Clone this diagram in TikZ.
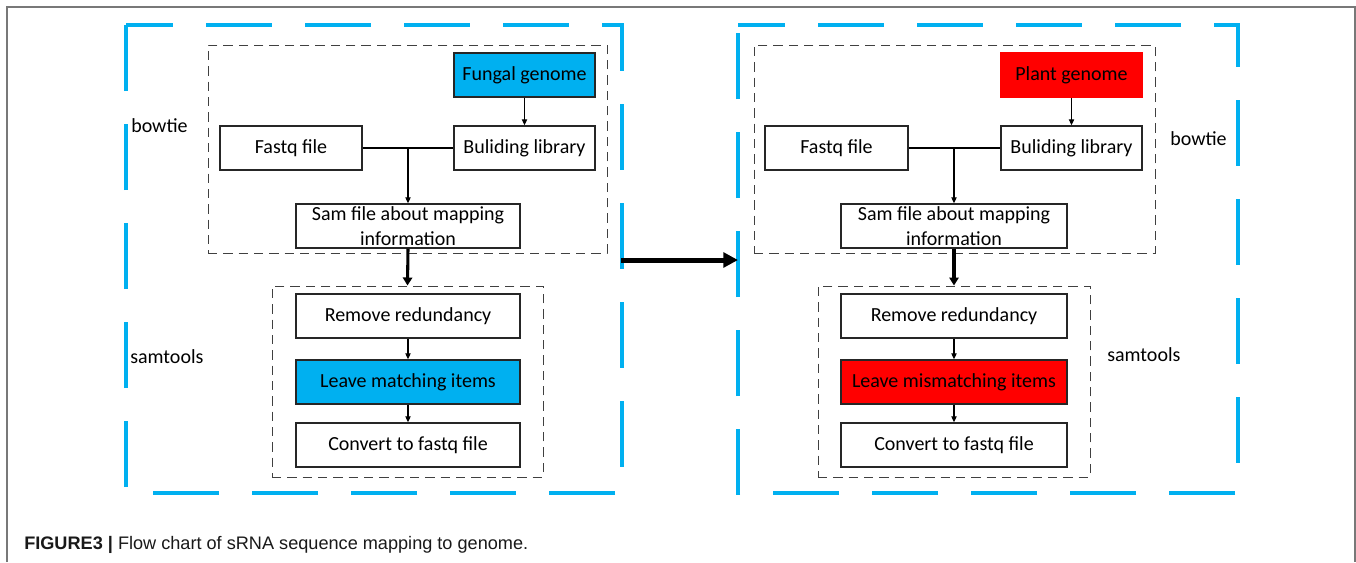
\documentclass[tikz,border=0pt]{standalone}
\usepackage{fontspec}
\setmainfont{Carlito}
\newfontfamily\capfont{Liberation Sans}
\usetikzlibrary{arrows.meta}
\definecolor{cblue}{RGB}{0,176,240}
\definecolor{cred}{RGB}{255,0,0}
\definecolor{frame}{RGB}{120,120,120}
\begin{document}
\begin{tikzpicture}[x=0.75pt,y=-0.75pt,
  box/.style={draw=black!85, line width=1.1pt, minimum height=33pt, inner sep=0pt,
    font=\fontsize{15}{18.5}\selectfont, align=center},
  bluefill/.style={box, fill=cblue},
  redfill/.style={box, fill=cred},
  groupbox/.style={draw=black!75, line width=0.75pt, dash pattern=on 7pt off 4.5pt, inner sep=0pt},
  bluedash/.style={draw=cblue, line width=2.4pt, dash pattern=on 49.5pt off 24.75pt, dash phase=14.25pt},
  thin/.style={draw=black, line width=0.8pt, -{Triangle[length=4.5pt,width=4pt]}},
  link/.style={draw=black, line width=0.8pt},
  thick/.style={draw=black, line width=2.3pt, -{Triangle[length=6pt,width=7pt]}},
  big/.style={draw=black, line width=3.75pt, -{Triangle[length=11pt,width=11pt]}},
  lbl/.style={anchor=west, inner sep=0pt, font=\fontsize{15}{18}\selectfont},
]
\useasboundingbox[fill=white] (0,0) rectangle (1356,562);
% outer frame
\draw[frame, line width=1.1pt] (7,562) -- (7,7) -- (1355,7) -- (1355,562);

% ---------- left panel ----------
\draw[bluedash] (126,25) -- (622,25) -- (622,493) -- (126,493) -- cycle;
\node[groupbox, minimum width=299.25pt, minimum height=156pt] (B1) at (407.5,149) {};
\node[groupbox, minimum width=203.25pt, minimum height=143.25pt] (S1) at (407.5,381.5) {};

\node[bluefill, minimum width=105.75pt] (fung) at (524.5,75) {Fungal genome};
\node[box, minimum width=105.75pt] (lib) at (524.5,148) {Buliding library};
\node[box, minimum width=106.5pt] (fq) at (291,148) {Fastq file};
\node[box, minimum width=168pt] (sam) at (408,226) {Sam file about mapping\\information};
\node[box, minimum width=168pt] (rem) at (408,316) {Remove redundancy};
\node[bluefill, minimum width=168pt] (leave) at (408,382) {Leave matching items};
\node[box, minimum width=168pt] (conv) at (408,445) {Convert to fastq file};
\coordinate (j1) at (408,148);

\draw[thin] (fung) -- (lib);
\draw[link] (fq.east) -- (lib.west);
\draw[thin] (j1) -- (sam.north);
\draw[thick] (sam.south) -- (S1.north);
\draw[thin] (rem) -- (leave);
\draw[thin] (leave) -- (conv);

\node[lbl] (bt1) at (131,126) {bowtie};
\node[lbl] (st1) at (130,357) {samtools};

% ---------- right panel ----------
\draw[bluedash] (738,25) -- (1238,25) -- (1238,493) -- (738,493) -- cycle;
\node[groupbox, minimum width=300.75pt, minimum height=156pt] (B2) at (954.5,149) {};
\node[groupbox, minimum width=204pt, minimum height=143.25pt] (S2) at (954,381.5) {};

\node[redfill, draw=cred, minimum width=105.75pt] (plant) at (1071.5,75) {Plant genome};
\node[box, minimum width=105.75pt] (lib2) at (1071.5,148) {Buliding library};
\node[box, minimum width=107.25pt] (fq2) at (836.5,148) {Fastq file};
\node[box, minimum width=169.5pt] (sam2) at (954,226) {Sam file about mapping\\information};
\node[box, minimum width=169.5pt] (rem2) at (954,316) {Remove redundancy};
\node[redfill, minimum width=169.5pt] (leave2) at (954,382) {Leave mismatching items};
\node[box, minimum width=169.5pt] (conv2) at (954,445) {Convert to fastq file};
\coordinate (j2) at (954,148);

\draw[thin] (plant) -- (lib2);
\draw[link] (fq2.east) -- (lib2.west);
\draw[thin] (j2) -- (sam2.north);
\draw[thick] (sam2.south) -- (S2.north);
\draw[thin] (rem2) -- (leave2);
\draw[thin] (leave2) -- (conv2);

\node[lbl] (bt2) at (1170,139) {bowtie};
\node[lbl] (st2) at (1107,355) {samtools};

% ---------- panel arrow ----------
\coordinate (pa) at (621,260);
\coordinate (pb) at (738,260);
\draw[big] (pa) -- (pb);

% ---------- caption ----------
\node[anchor=base west, inner sep=0pt, font=\capfont\fontsize{13.6}{16}\selectfont, text=black!90] (cap) at (24,549)
  {{\bfseries FIGURE3 |} Flow chart of sRNA sequence mapping to genome.};
\end{tikzpicture}
\end{document}
